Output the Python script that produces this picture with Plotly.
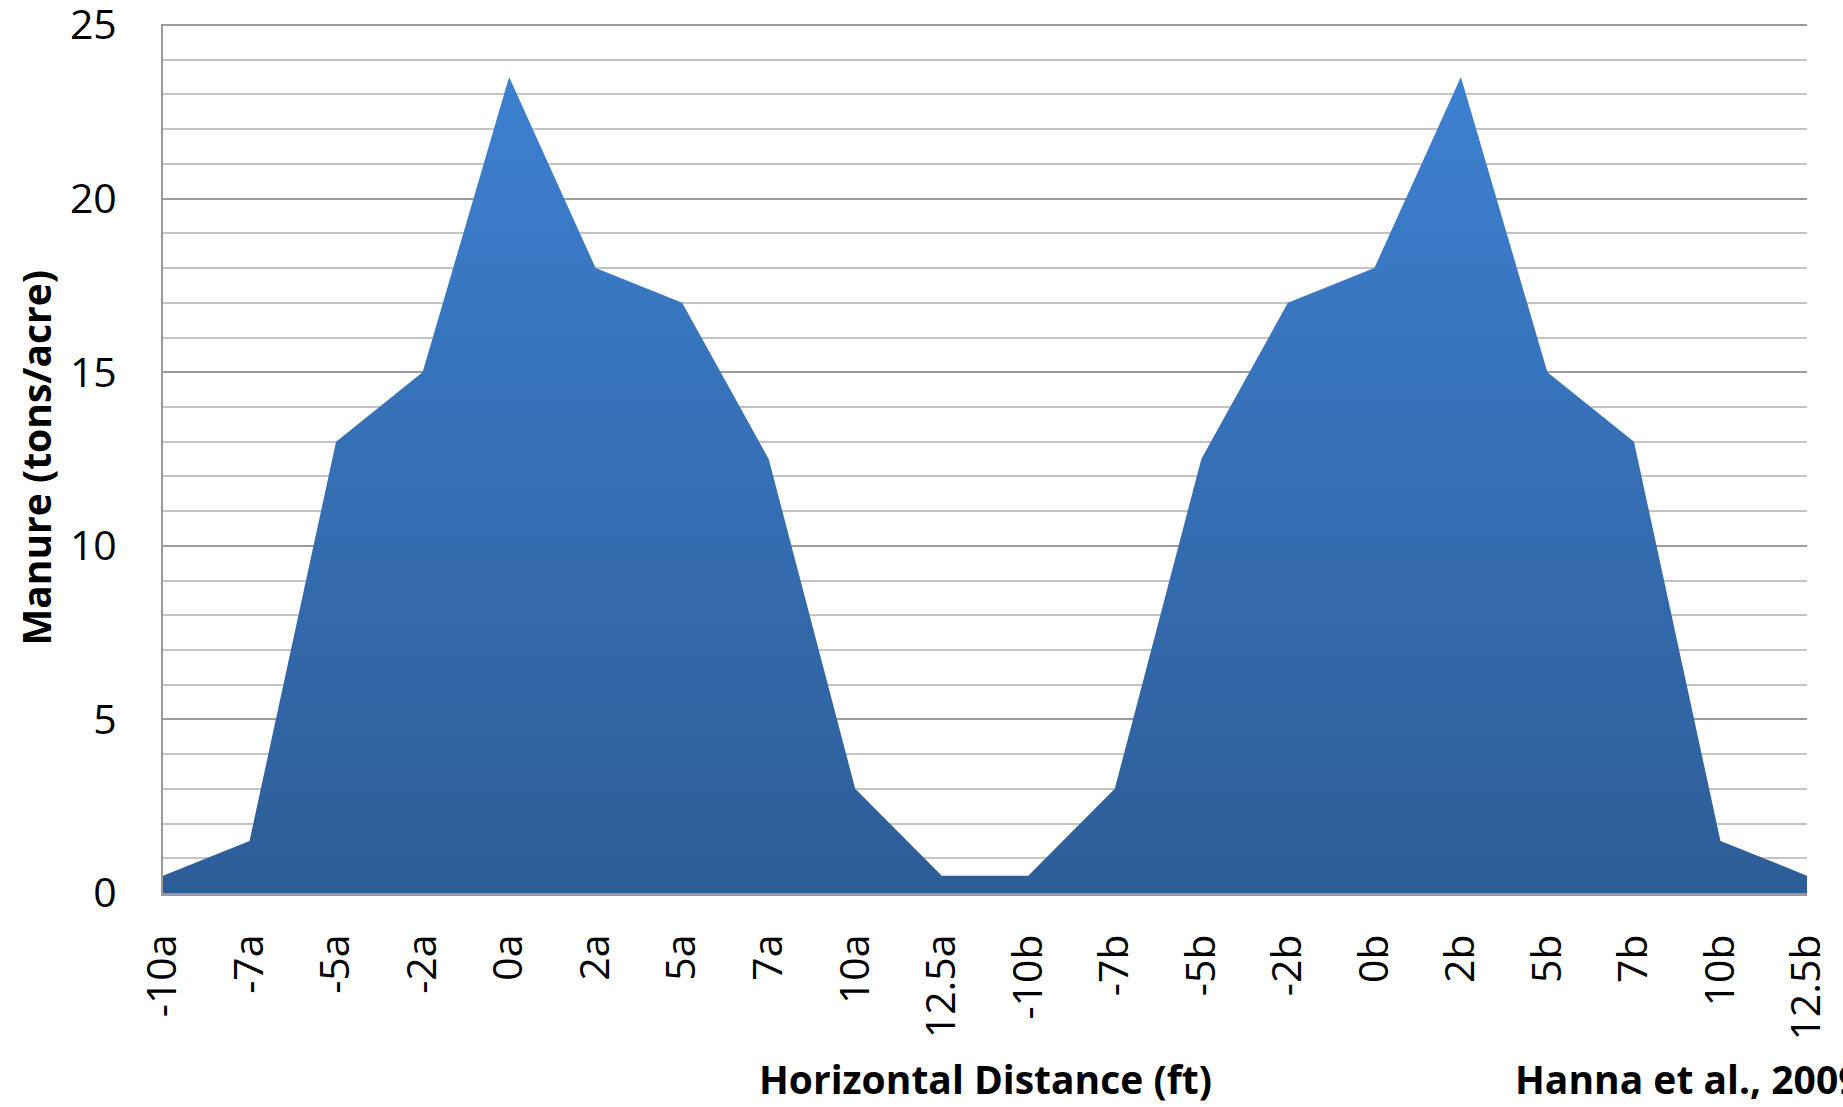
import plotly.graph_objects as go

categories = ["-10a", "-7a", "-5a", "-2a", "0a", "2a", "5a", "7a", "10a", "12.5a",
              "-10b", "-7b", "-5b", "-2b", "0b", "2b", "5b", "7b", "10b", "12.5b"]
manure = [0.5, 1.5, 13, 15, 23.5, 18, 17, 12.5, 3, 0.5,
          0.5, 3, 12.5, 17, 18, 23.5, 15, 13, 1.5, 0.5]
y_ticks = [0, 5, 10, 15, 20, 25]

font_family = "Open Sans, Liberation Sans, sans-serif"

L, R, T, B = 163, 1807, 24, 893
PW, PH = R - L, B - T

fig = go.Figure()
fig.add_trace(go.Scatter(
    x=categories, y=manure, mode="lines", fill="tozeroy",
    line=dict(width=0, color="#3a76c2"),
    fillgradient=dict(type="vertical", start=0, stop=25,
                      colorscale=[[0, "#2d5d97"], [1, "#3e82d4"]]),
    hoverinfo="x+y", showlegend=False,
))

fig.update_layout(
    width=1843, height=1107,
    margin=dict(l=L, r=1843 - R, t=T, b=1107 - B, autoexpand=False),
    paper_bgcolor="white", plot_bgcolor="white",
    font=dict(family=font_family, color="black"),
    xaxis=dict(
        type="category", range=[0, len(categories) - 1],
        tickangle=-90, tickfont=dict(size=41), ticks="",
        showgrid=False, showline=True, linecolor="#9a9a9a", linewidth=3,
        ticklabelstandoff=22, automargin=False,
    ),
    yaxis=dict(
        range=[0, 25.03], tickvals=y_ticks, tickfont=dict(size=41), ticks="",
        showgrid=True, gridcolor="#9c9c9c", gridwidth=1.5,
        minor=dict(dtick=1, showgrid=True, gridcolor="#c4c4c4", gridwidth=1.5),
        showline=True, linecolor="#9a9a9a", linewidth=2,
        ticklabelstandoff=36, zeroline=False, ticklabeloverflow="allow",
        automargin=False,
    ),
)

fig.add_annotation(
    text="<b>Horizontal Distance (ft)</b>", xref="paper", yref="paper",
    x=0.5, y=-(1078 - B) / PH, xanchor="center", yanchor="middle", showarrow=False,
    font=dict(size=39, family=font_family, color="black"),
)
fig.add_annotation(
    text="<b>Manure (tons/acre)</b>", xref="paper", yref="paper",
    x=(35 - L) / PW, y=0.5, textangle=-90,
    xanchor="center", yanchor="middle", showarrow=False,
    font=dict(size=39, family=font_family, color="black"),
)
fig.add_annotation(
    text="<b>Hanna et al., 2009</b>", xref="paper", yref="paper",
    x=(1513 - L) / PW, y=-(1078 - B) / PH,
    xanchor="left", yanchor="middle", showarrow=False,
    font=dict(size=39, family=font_family, color="black"),
)

fig.write_html("out.html")
